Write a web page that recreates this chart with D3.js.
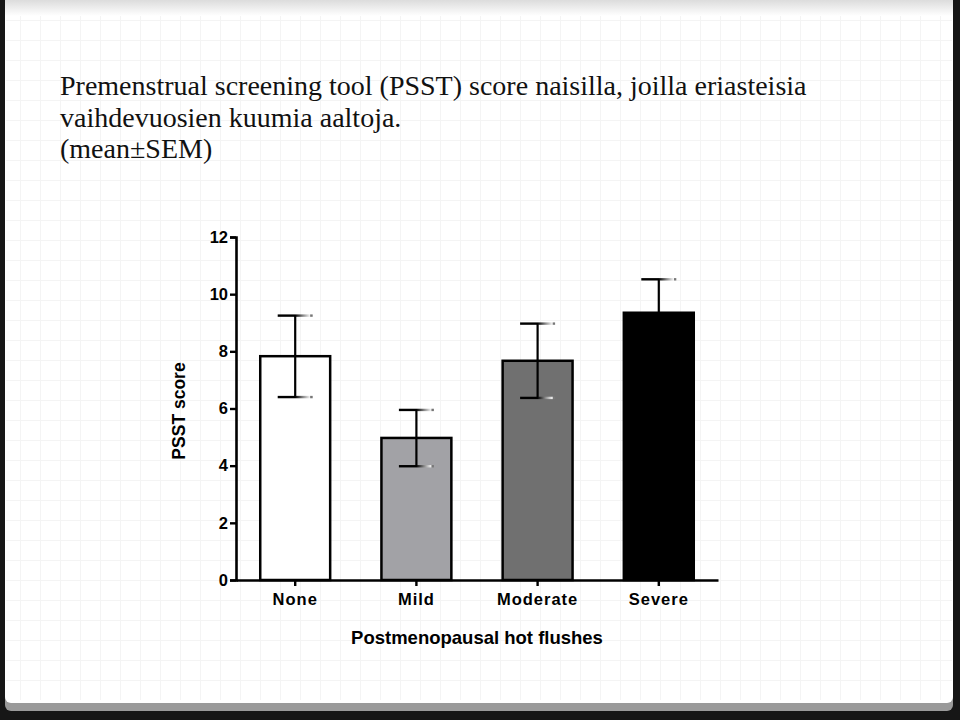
<!DOCTYPE html>
<html>
<head>
<meta charset="utf-8">
<script src="https://cdn.jsdelivr.net/npm/d3@7"></script>
<style>
  html, body { margin: 0; padding: 0; background: #161616; }
  svg { display: block; }
</style>
</head>
<body>
<svg id="chart" width="960" height="720"></svg>
<script>
// ---- data ----
const titleLines = [
  "Premenstrual screening tool (PSST) score naisilla, joilla eriasteisia",
  "vaihdevuosien kuumia aaltoja.",
  "(mean±SEM)"
];
const categories = ["None", "Mild", "Moderate", "Severe"];
const means = [7.83, 4.97, 7.67, 9.35];
const errUpper = [9.25, 5.95, 8.97, 10.52];
const errLower = [6.4, 3.98, 6.37, 8.18];
const barColors = ["#ffffff", "#a2a2a6", "#707070", "#000000"];
const yTicks = [0, 2, 4, 6, 8, 10, 12];
const xTitle = "Postmenopausal hot flushes";
const yTitle = "PSST score";

const svg = d3.select("#chart");

// ---- slide background ----
const defs = svg.append("defs");
const topShade = defs.append("linearGradient").attr("id", "topShade")
  .attr("x1", 0).attr("y1", 0).attr("x2", 0).attr("y2", 1);
topShade.append("stop").attr("offset", "0%").attr("stop-color", "#dcdcdc");
topShade.append("stop").attr("offset", "100%").attr("stop-color", "#ffffff");

const capGrad = defs.append("linearGradient").attr("id", "capGrad")
  .attr("x1", 0).attr("y1", 0).attr("x2", 1).attr("y2", 0);
[["0%", "#000"], ["50%", "#000"], ["72%", "#888"], ["92%", "#f4f4f4"], ["94%", "#777"], ["100%", "#777"]]
  .forEach(([o, c]) => capGrad.append("stop").attr("offset", o).attr("stop-color", c));

svg.append("rect").attr("x", 0).attr("y", 0).attr("width", 960).attr("height", 720).attr("fill", "#161616");
svg.append("rect").attr("x", 5).attr("y", 0).attr("width", 948).attr("height", 711).attr("fill", "#9a9a9a").attr("rx", 6);
svg.append("rect").attr("x", 5).attr("y", 0).attr("width", 948).attr("height", 703).attr("fill", "#ffffff").attr("rx", 6);
svg.append("rect").attr("x", 5).attr("y", 0).attr("width", 948).attr("height", 16).attr("fill", "url(#topShade)");

// faint grid
const grid = svg.append("g").attr("stroke", "#f4f4f4").attr("stroke-width", 1);
d3.range(20, 950, 20).forEach(x => grid.append("line").attr("x1", x + 0.5).attr("x2", x + 0.5).attr("y1", 16).attr("y2", 700));
d3.range(20, 700, 20).forEach(y => grid.append("line").attr("x1", 6).attr("x2", 952).attr("y1", y + 0.5).attr("y2", y + 0.5));

// ---- title ----
svg.append("g").selectAll("text").data(titleLines).join("text")
  .attr("x", 60).attr("y", (d, i) => 95 + i * 31.5)
  .attr("font-family", "Liberation Serif, serif")
  .attr("font-size", 28)
  .attr("fill", "#111")
  .text(d => d);

// ---- chart ----
const x0 = 236, x1 = 718, yTop = 237, yBase = 580;
const y = d3.scaleLinear().domain([0, 12]).range([yBase, yTop]);
const x = d3.scaleBand().domain(categories).range([x0, x1]).paddingInner(0.423).paddingOuter(0.2);

const g = svg.append("g");

// bars
g.selectAll("rect.bar").data(categories).join("rect")
  .attr("class", "bar")
  .attr("x", d => x(d))
  .attr("width", x.bandwidth())
  .attr("y", (d, i) => y(means[i]))
  .attr("height", (d, i) => yBase - y(means[i]))
  .attr("fill", (d, i) => barColors[i])
  .attr("stroke", "#000")
  .attr("stroke-width", 2.5);

// error bars
const capW = 17.5, capH = 2.4;
categories.forEach((c, i) => {
  const cx = x(c) + x.bandwidth() / 2;
  const eg = g.append("g");
  eg.append("line").attr("x1", cx).attr("x2", cx).attr("y1", y(errUpper[i])).attr("y2", y(errLower[i]))
    .attr("stroke", "#000").attr("stroke-width", 2.2);
  [errUpper[i], errLower[i]].forEach(v => {
    eg.append("rect").attr("x", cx - capW).attr("width", 2 * capW)
      .attr("y", y(v) - capH / 2).attr("height", capH)
      .attr("fill", i === 3 && v === errLower[i] ? "#000" : "url(#capGrad)");
  });
});

// y axis
const yAxis = d3.axisLeft(y).tickValues(yTicks).tickSize(6).tickPadding(2).tickFormat(d3.format("d"));
const ya = svg.append("g").attr("transform", `translate(${x0},0)`).call(yAxis);
ya.select(".domain").attr("stroke", "#000").attr("stroke-width", 2.6);
ya.selectAll(".tick line").attr("stroke", "#000").attr("stroke-width", 2.4);
ya.selectAll(".tick text")
  .attr("font-family", "Liberation Sans, Arial, sans-serif")
  .attr("font-weight", "bold").attr("font-size", 16.5).attr("fill", "#000");

// x axis
const xAxis = d3.axisBottom(x).tickSize(6).tickPadding(7).tickSizeOuter(0);
const xa = svg.append("g").attr("transform", `translate(0,${yBase})`).call(xAxis);
xa.select(".domain").attr("stroke", "#000").attr("stroke-width", 2.6);
xa.selectAll(".tick line").attr("stroke", "#000").attr("stroke-width", 2.4);
xa.selectAll(".tick text")
  .attr("font-family", "Liberation Sans, Arial, sans-serif")
  .attr("font-weight", "bold").attr("font-size", 16.5).attr("fill", "#000")
  .attr("letter-spacing", 1);

// axis titles
svg.append("text")
  .attr("x", 477).attr("y", 644)
  .attr("text-anchor", "middle")
  .attr("font-family", "Liberation Sans, Arial, sans-serif")
  .attr("font-weight", "bold").attr("font-size", 18.5).attr("fill", "#000")
  .text(xTitle);

svg.append("text")
  .attr("transform", "translate(185,411) rotate(-90)")
  .attr("text-anchor", "middle")
  .attr("font-family", "Liberation Sans, Arial, sans-serif")
  .attr("font-weight", "bold").attr("font-size", 17.5).attr("fill", "#000")
  .text(yTitle);
</script>
</body>
</html>
